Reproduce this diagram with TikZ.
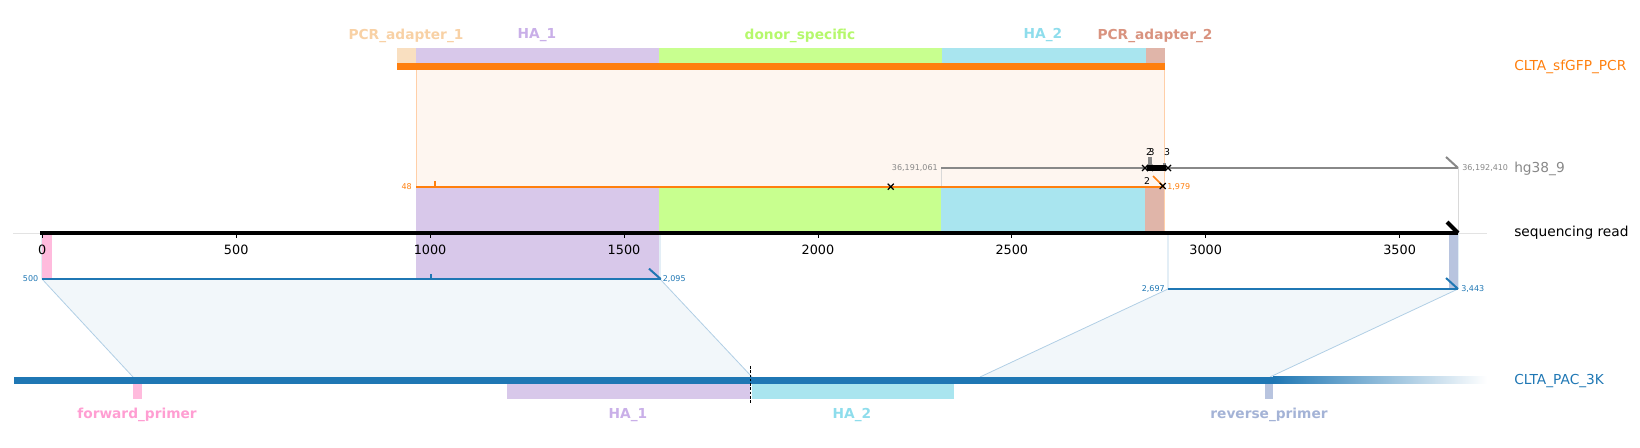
\documentclass[tikz,border=0pt]{standalone}
\usepackage{fontspec}
\setmainfont{DejaVu Sans}
\definecolor{tabblue}{HTML}{1F77B4}
\definecolor{taborange}{HTML}{FF7F0E}
\definecolor{tabgray}{HTML}{888888}
\definecolor{peachfill}{HTML}{FEF6F0}
\definecolor{peachedge}{HTML}{FFCFA8}
\definecolor{bluefill}{HTML}{F2F7FA}
\definecolor{blueedge}{HTML}{B1CFE5}
\definecolor{grayedge}{HTML}{D9D9D9}
\definecolor{spinec}{HTML}{E3E3E3}
\definecolor{fPAone}{HTML}{F9DFC0}
\definecolor{tPAone}{HTML}{F8D1A5}
\definecolor{fHAone}{HTML}{D8C8EA}
\definecolor{tHAone}{HTML}{C9AFE8}
\definecolor{fDonor}{HTML}{C8FF8F}
\definecolor{tDonor}{HTML}{B5F86C}
\definecolor{fHAtwo}{HTML}{A9E5EF}
\definecolor{tHAtwo}{HTML}{8EDDEC}
\definecolor{fPAtwo}{HTML}{E0B5A9}
\definecolor{tPAtwo}{HTML}{D9937F}
\definecolor{fFwd}{HTML}{FFBBDD}
\definecolor{tFwd}{HTML}{FF9ED2}
\definecolor{fRev}{HTML}{B8C4DF}
\definecolor{tRev}{HTML}{A4B3D6}
\begin{document}
\begin{tikzpicture}[x=0.75pt,y=-0.75pt,
  featlbl/.style={font=\fontsize{10.3}{12}\selectfont\bfseries, inner sep=0},
  tracklbl/.style={font=\fontsize{10.3}{12}\selectfont, anchor=west, inner sep=0},
  ticklbl/.style={font=\fontsize{9.6}{11}\selectfont, inner sep=0},
  smalllbl/.style={font=\fontsize{6}{7}\selectfont, inner sep=0},
  countlbl/.style={font=\fontsize{7}{8}\selectfont, inner sep=0},
  alnline/.style={line width=1.5pt},
  xmark/.style={line width=0.9pt, black},
  edgeline/.style={line width=0.6pt},
]
\useasboundingbox (0,0) rectangle (1640,448);

% faint axis spine
\draw[spinec, line width=0.6pt] (13,233) -- (1487,233);

% projection of CLTA_sfGFP_PCR onto the read
\fill[peachfill] (416,70) rectangle (1164,233);
\draw[peachedge, edgeline] (416,70) -- (416,233);
\draw[peachedge, edgeline] (1164,70) -- (1164,233);

% projection edges of hg38_9
\draw[grayedge, edgeline] (941,168) -- (941,233);
\draw[grayedge, edgeline] (1458,168) -- (1458,233);

% projection trapezoids of CLTA_PAC_3K
\fill[bluefill] (42,279) -- (660,279) -- (752,377) -- (133,377) -- cycle;
\fill[bluefill] (1168,289) -- (1458,289) -- (1270,377) -- (980,377) -- cycle;
\draw[blueedge, edgeline] (42,233) -- (42,279) -- (133,377);
\draw[blueedge, edgeline] (660,233) -- (660,279) -- (752,377);
\draw[blueedge, edgeline] (1168,233) -- (1168,289) -- (980,377);
\draw[blueedge, edgeline] (1458,233) -- (1458,289) -- (1270,377);

% features projected on the read
\fill[fHAone] (416,187) rectangle (659,279);
\fill[fDonor] (659,187) rectangle (941,233);
\fill[fHAtwo] (941,187) rectangle (1145,233);
\fill[fPAtwo] (1145,187) rectangle (1164,233);
\fill[fFwd] (42,233) rectangle (52,279);
\fill[fRev] (1449,233) rectangle (1458,289);

% top track CLTA_sfGFP_PCR
\draw[taborange, line width=5pt] (397,66.7) -- (1165,66.7);
\fill[fPAone] (397,47.7) rectangle (416,63.3);
\fill[fHAone] (416,47.7) rectangle (659,63.3);
\fill[fDonor] (659,47.7) rectangle (942,63.3);
\fill[fHAtwo] (942,47.7) rectangle (1146,63.3);
\fill[fPAtwo] (1146,47.7) rectangle (1165,63.3);
\node[featlbl, text=tPAone] (lpa1) at (406,35.5) {PCR\_adapter\_1};
\node[featlbl, text=tHAone] (lha1) at (537,35.5) {HA\_1};
\node[featlbl, text=tDonor] (ldon) at (800,35.5) {donor\_specific};
\node[featlbl, text=tHAtwo] (lha2) at (1043,35.5) {HA\_2};
\node[featlbl, text=tPAtwo] (lpa2) at (1155,35.5) {PCR\_adapter\_2};

% hg38_9 alignment
\coordinate (hgA) at (941,168);
\coordinate (hgB) at (1458,168);
\draw[tabgray, alnline] (hgA) -- (hgB);
\draw[tabgray, alnline] (1446,157) -- (hgB);
\node[smalllbl, text=tabgray, anchor=east] (hgs) at (938,168) {36,191,061};
\node[smalllbl, text=tabgray, anchor=west] (hge) at (1462,168) {36,192,410};
% cluster of small events
\fill[tabgray] (1148,157) rectangle (1152,168);
\fill[tabgray] (1163,163) rectangle (1166,168);
\fill[black] (1147,165) rectangle (1166,171.5);
\foreach \xx in {1145,1150,1168}{
  \draw[xmark] (\xx-3,165) -- (\xx+3,171) (\xx-3,171) -- (\xx+3,165);
}
\node[countlbl] (n2a) at (1149,152.5) {2};
\node[countlbl] (n3a) at (1151.5,152.5) {3};
\node[countlbl] (n3b) at (1167,152.5) {3};
\node[countlbl] (n2b) at (1147,181) {2};

% CLTA_sfGFP_PCR alignment on the read
\coordinate (orA) at (416,187);
\coordinate (orB) at (1164,187);
\draw[taborange, alnline] (orA) -- (orB);
\draw[taborange, line width=1pt] (435,181) -- (435,187);
\draw[taborange, line width=1.2pt] (1153,176) -- (1163,186);
\node[smalllbl, text=taborange, anchor=east] (ors) at (412,187) {48};
\node[smalllbl, text=taborange, anchor=west] (ore) at (1167,187) {1,979};
\draw[xmark] (887.7,183.7) -- (893.7,189.7) (887.7,189.7) -- (893.7,183.7);
\draw[xmark] (1159.7,183) -- (1165.7,189) (1159.7,189) -- (1165.7,183);

% sequencing read
\coordinate (rdA) at (40,233);
\coordinate (rdB) at (1458,233);
\draw[black, line width=3pt] (rdA) -- (rdB);
\draw[black, line width=3pt] (1447,222) -- (rdB);
\foreach \v in {0,500,...,3500}{
  \pgfmathsetmacro{\xx}{42.3+0.3878*\v}
  \draw[black, line width=0.6pt] (\xx,235) -- (\xx,238.5);
  \node[ticklbl] at (\xx,250) {\v};
}

% CLTA_PAC_3K alignments on the read
\coordinate (blA) at (42,279);
\coordinate (blB) at (660.7,279);
\draw[tabblue, alnline] (blA) -- (blB);
\draw[tabblue, alnline] (649,268.7) -- (blB);
\draw[tabblue, line width=1pt] (431,274) -- (431,279);
\node[smalllbl, text=tabblue, anchor=east] (bls) at (38.5,279) {500};
\node[smalllbl, text=tabblue, anchor=west] (ble) at (662.5,279) {2,095};

\coordinate (brA) at (1168,289);
\coordinate (brB) at (1458,289);
\draw[tabblue, alnline] (brA) -- (brB);
\draw[tabblue, alnline] (1446,278) -- (brB);
\node[smalllbl, text=tabblue, anchor=east] (brs) at (1165,288.5) {2,697};
\node[smalllbl, text=tabblue, anchor=west] (bre) at (1461,288.5) {3,443};

% bottom track CLTA_PAC_3K
\fill[tabblue] (14,377) rectangle (1273,384);
\shade[left color=tabblue, right color=white] (1273,377) rectangle (1487,384);
\fill[fFwd] (133,384) rectangle (142,399);
\fill[fHAone] (507,384) rectangle (750,399);
\fill[fHAtwo] (752,384) rectangle (954,399);
\fill[fRev] (1265,384) rectangle (1273,399);
\draw[black, line width=0.9pt, dash pattern=on 2pt off 1.2pt] (750.7,366) -- (750.7,404);
\node[featlbl, text=tFwd] (lfwd) at (137,415) {forward\_primer};
\node[featlbl, text=tHAone] (lha1b) at (628,415) {HA\_1};
\node[featlbl, text=tHAtwo] (lha2b) at (852,415) {HA\_2};
\node[featlbl, text=tRev] (lrev) at (1269,415) {reverse\_primer};

% track names
\node[tracklbl, text=taborange] (tn1) at (1514,66.5) {CLTA\_sfGFP\_PCR};
\node[tracklbl, text=tabgray] (tn2) at (1514,168.5) {hg38\_9};
\node[tracklbl, text=black] (tn3) at (1514,233) {sequencing read};
\node[tracklbl, text=tabblue] (tn4) at (1514,381) {CLTA\_PAC\_3K};
\end{tikzpicture}
\end{document}
